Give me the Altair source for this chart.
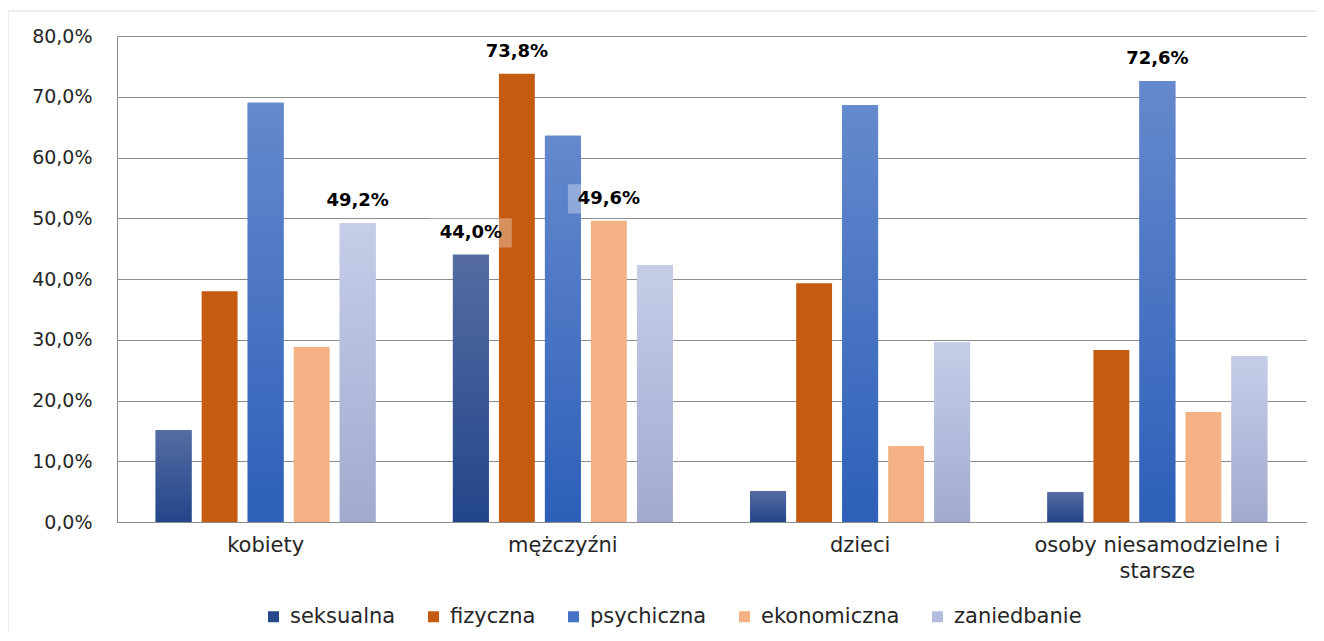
import altair as alt
import pandas as pd

categories = ["kobiety", "mężczyźni", "dzieci", "osoby niesamodzielne i starsze"]
series = ["seksualna", "fizyczna", "psychiczna", "ekonomiczna", "zaniedbanie"]
seksualna = [15.1, 44.0, 5.1, 4.9]
fizyczna = [38.0, 73.8, 39.3, 28.3]
psychiczna = [69.0, 63.6, 68.6, 72.6]
ekonomiczna = [28.8, 49.6, 12.5, 18.1]
zaniedbanie = [49.2, 42.3, 29.6, 27.3]
labelled = [
    ("kobiety", "zaniedbanie"),
    ("mężczyźni", "seksualna"),
    ("mężczyźni", "fizyczna"),
    ("mężczyźni", "ekonomiczna"),
    ("osoby niesamodzielne i starsze", "psychiczna"),
]
legend_colors = ["#264a8c", "#c55a11", "#4472c4", "#f4b183", "#b4bde0"]
gradients = {
    "seksualna": ("#22458a", "#566ca2"),
    "psychiczna": ("#2d5fb8", "#6589cd"),
    "zaniedbanie": ("#a1abcf", "#c6cde8"),
}

values = {"seksualna": seksualna, "fizyczna": fizyczna, "psychiczna": psychiczna,
          "ekonomiczna": ekonomiczna, "zaniedbanie": zaniedbanie}
rows = []
for s in series:
    for c, v in zip(categories, values[s]):
        rows.append({"kategoria": c, "rodzaj": s, "wartosc": v,
                     "etykieta": 1 if (c, s) in labelled else 0})
df = pd.DataFrame(rows)

FONT = "DejaVu Sans"
W, H = 1189, 486


def X():
    return alt.X("kategoria:N", sort=categories,
                 scale=alt.Scale(domain=categories, paddingInner=0, paddingOuter=0),
                 axis=alt.Axis(title=None, labelFont=FONT, labelFontSize=21, labelColor="#262626",
                               labelAngle=0, ticks=False, grid=False, domainColor="#8c8c8c",
                               labelPadding=12, labelLineHeight=26, labelLimit=500,
                               labelExpr="datum.label == 'osoby niesamodzielne i starsze' ? ['osoby niesamodzielne i', 'starsze'] : datum.label"))


def XO():
    return alt.XOffset("rodzaj:N", sort=series,
                       scale=alt.Scale(domain=series, paddingInner=0.22, paddingOuter=0.84))


def Y(field):
    return alt.Y(field, title=None, scale=alt.Scale(domain=[0, 80], nice=False),
                 axis=alt.Axis(title=None, values=[0, 10, 20, 30, 40, 50, 60, 70, 80],
                               labelExpr="replace(format(datum.value, '.1f'), '.', ',') + '%'",
                               labelFont=FONT, labelFontSize=19, labelColor="#262626",
                               ticks=False, labelPadding=25, domain=True, domainColor="#8c8c8c",
                               grid=True, gridColor="#8c8c8c", gridWidth=1, orient="left"))


base = alt.Chart(df)

bars = base.mark_bar().encode(
    x=X(), xOffset=XO(), y=Y("wartosc:Q"),
    color=alt.Color("rodzaj:N", sort=series,
                    scale=alt.Scale(domain=series, range=legend_colors),
                    legend=alt.Legend(title=None, orient="none", direction="horizontal",
                                      legendX=146, legendY=570, symbolType="square",
                                      symbolSize=121, symbolStrokeWidth=0, labelFont=FONT,
                                      labelFontSize=21, labelColor="#262626", labelOffset=6,
                                      columnPadding=27, labelLimit=300)),
)

layers = [bars]
for s, (bottom, top) in gradients.items():
    g = alt.Gradient(gradient="linear", x1=0, x2=0, y1=1, y2=0,
                     stops=[alt.GradientStop(color=bottom, offset=0),
                            alt.GradientStop(color=top, offset=1)])
    layers.append(
        base.transform_filter(alt.datum.rodzaj == s)
        .mark_bar(color=g)
        .encode(x=X(), xOffset=XO(), y=Y("wartosc:Q"))
    )

lab = base.transform_filter(alt.datum.etykieta == 1).transform_calculate(
    b0="datum.wartosc + 1.2", b1="datum.wartosc + 6.0",
    txt="replace(format(datum.wartosc, '.1f'), '.', ',') + '%'",
)
boxes = lab.mark_bar(width=82, color="white", opacity=0.32).encode(
    x=X(), xOffset=XO(), y=Y("b0:Q"), y2="b1:Q")
texts = lab.mark_text(dy=-22, baseline="middle", font=FONT, fontSize=18, fontWeight="bold",
                      color="#000000").encode(
    x=X(), xOffset=XO(), y=Y("wartosc:Q"), text="txt:N")

frame = pd.DataFrame({"k": [0]})
border_top = alt.Chart(frame).mark_rule(color="#d9d9d9", strokeWidth=1).encode(
    x=alt.value(-109), x2=alt.value(W + 30), y=alt.value(-25))
border_left = alt.Chart(frame).mark_rule(color="#d9d9d9", strokeWidth=1).encode(
    x=alt.value(-109), y=alt.value(-25), y2=alt.value(H + 130))

chart = alt.layer(*layers, boxes, texts, border_top, border_left).properties(
    width=W, height=H,
    autosize=alt.AutoSizeParams(type="none"),
    padding={"left": 109, "top": 28, "right": 10, "bottom": 110},
    background="white",
).configure_view(
    stroke="transparent", strokeWidth=0
).configure_axisRight(
    disable=True
).configure_axisTop(
    disable=True
)

chart.save("out.html", embed_options={"renderer": "svg", "actions": False})
